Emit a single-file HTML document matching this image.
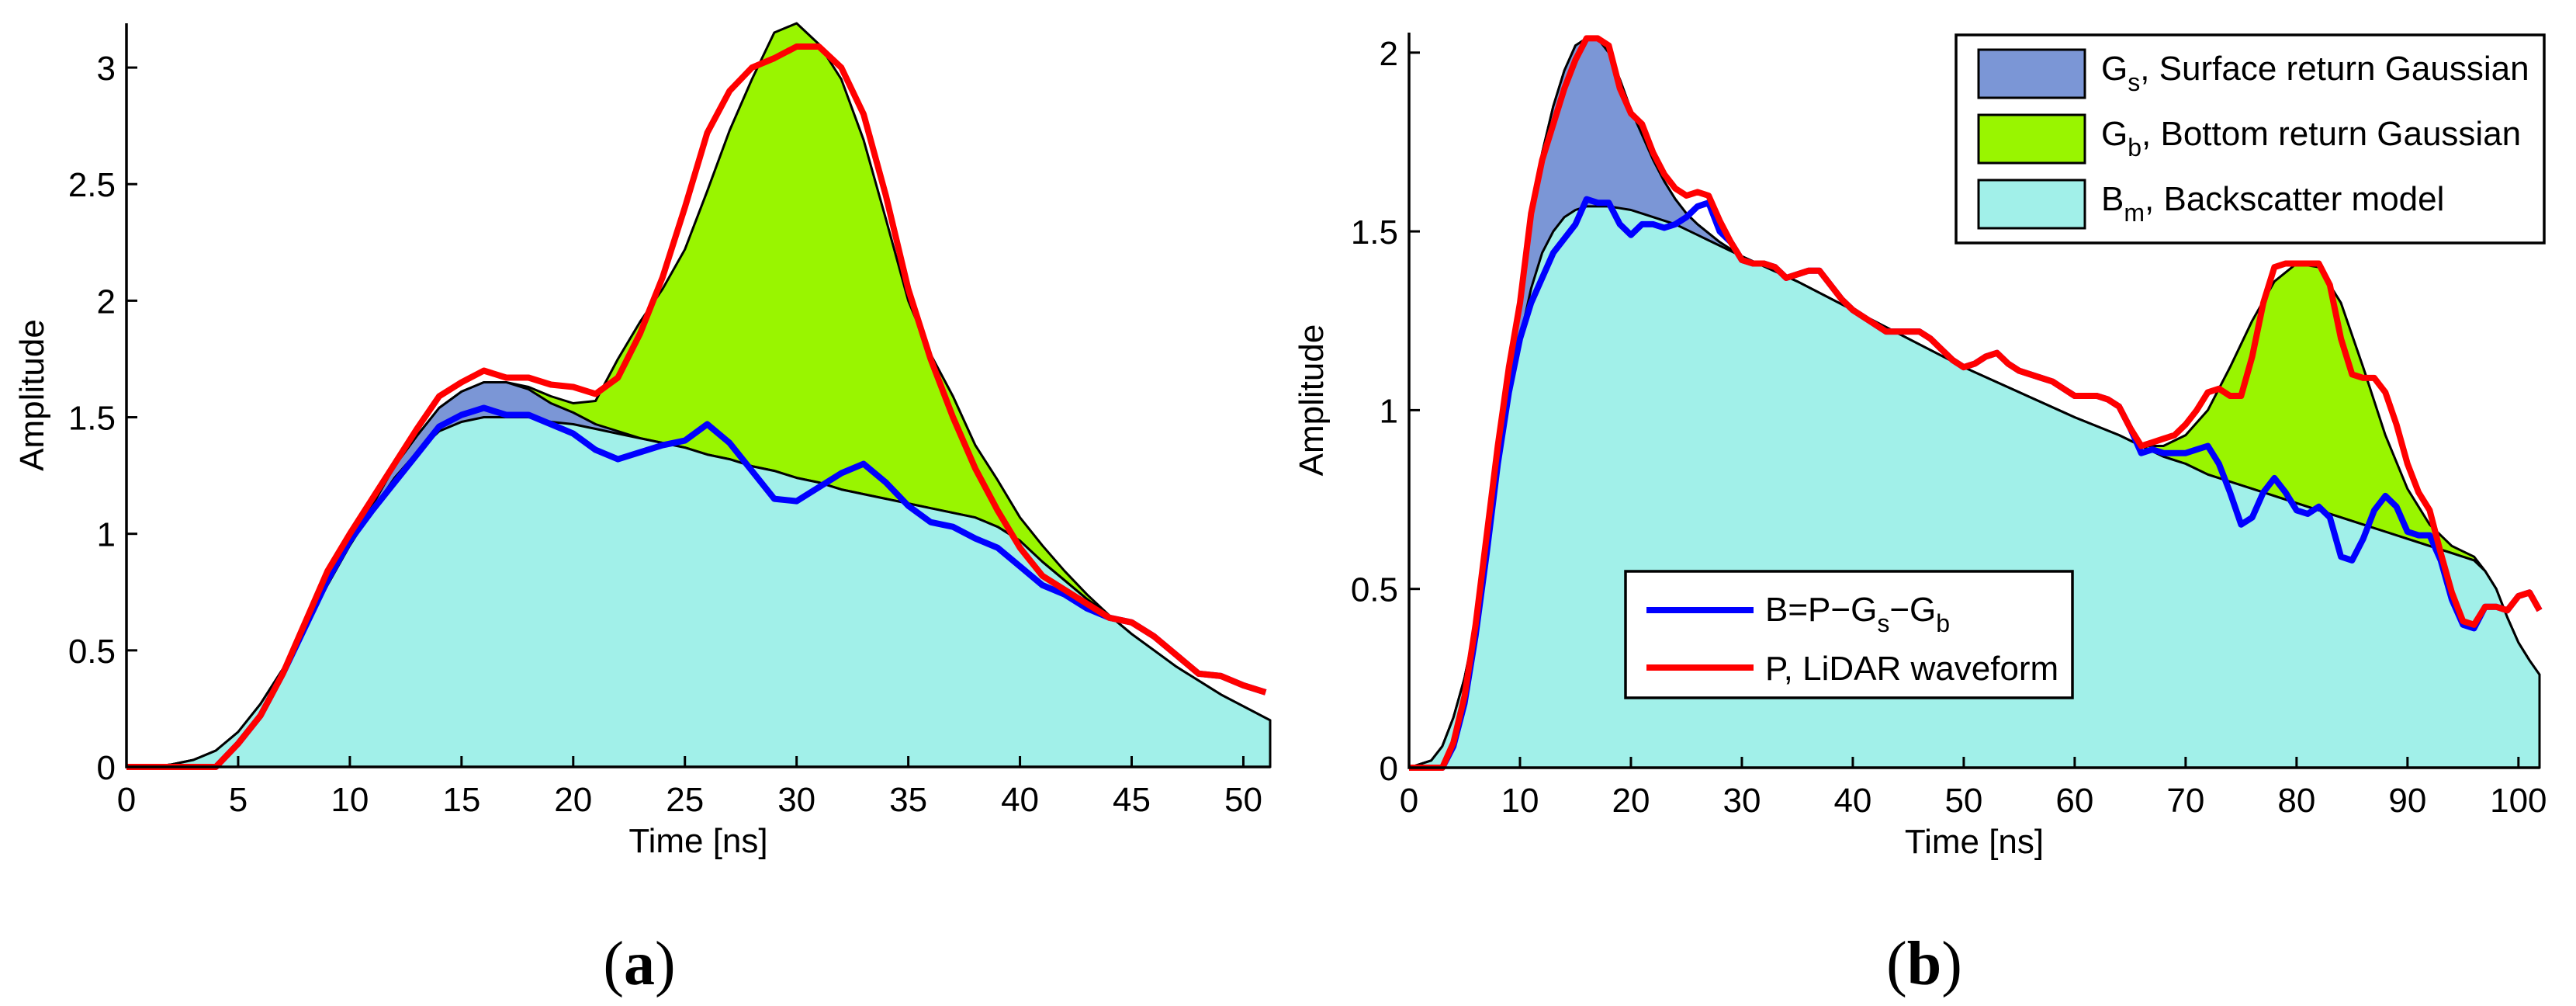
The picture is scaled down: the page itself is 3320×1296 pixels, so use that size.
<!DOCTYPE html>
<html><head><meta charset="utf-8">
<style>
html,body{margin:0;padding:0;background:#fff;}
svg{display:block;}
text{font-family:"Liberation Sans",sans-serif;}
</style></head>
<body>
<svg id="fig" width="3320" height="1296" viewBox="0 0 3320 1296" xmlns="http://www.w3.org/2000/svg">
</svg>
<script>
// ---------- Panel (a) data ----------
const timeA = [0,1,2,3,4,5,6,7,8,9,10,11,12,13,14,15,16,17,18,19,20,21,22,23,24,25,26,27,28,29,30,31,32,33,34,35,36,37,38,39,40,41,42,43,44,45,46,47,48,49,50,51,51.2];
const bmA = [0,0,0.01,0.03,0.07,0.15,0.27,0.42,0.6,0.78,0.95,1.1,1.24,1.35,1.44,1.48,1.5,1.5,1.5,1.48,1.47,1.45,1.43,1.41,1.39,1.37,1.34,1.32,1.29,1.27,1.24,1.22,1.19,1.17,1.15,1.13,1.11,1.09,1.07,1.03,0.97,0.88,0.8,0.72,0.65,0.57,0.5,0.43,0.37,0.31,0.26,0.21,0.2];
const gsA = [0,0,0,0,0,0,0,0,0,0,0,0.02,0.05,0.07,0.1,0.13,0.15,0.15,0.12,0.08,0.05,0.02,0.01,0,0,0,0,0,0,0,0,0,0,0,0,0,0,0,0,0,0,0,0,0,0,0,0,0,0,0,0,0,0];
const gbA = [0,0,0,0,0,0,0,0,0,0,0,0,0,0,0,0,0,0,0.01,0.03,0.04,0.1,0.31,0.5,0.66,0.85,1.13,1.41,1.66,1.88,1.95,1.88,1.76,1.52,1.2,0.87,0.66,0.5,0.31,0.2,0.1,0.07,0.04,0.02,0,0,0,0,0,0,0,0,0];
const lineTimeA = [0,1,2,3,4,5,6,7,8,9,10,11,12,13,14,15,16,17,18,19,20,21,22,23,24,25,26,27,28,29,30,31,32,33,34,35,36,37,38,39,40,41,42,43,44,45,46,47,48,49,50,51];
const pA = [0,0,0,0,0,0.1,0.22,0.4,0.62,0.84,1.0,1.15,1.3,1.45,1.59,1.65,1.7,1.67,1.67,1.64,1.63,1.6,1.67,1.86,2.1,2.4,2.72,2.9,3.0,3.04,3.09,3.09,3.0,2.8,2.45,2.05,1.75,1.5,1.28,1.1,0.94,0.82,0.76,0.7,0.64,0.62,0.56,0.48,0.4,0.39,0.35,0.32];
const bA = [0,0,0,0,0,0.1,0.22,0.4,0.6,0.8,0.97,1.1,1.22,1.34,1.46,1.51,1.54,1.51,1.51,1.47,1.43,1.36,1.32,1.35,1.38,1.4,1.47,1.39,1.27,1.15,1.14,1.2,1.26,1.3,1.22,1.12,1.05,1.03,0.98,0.94,0.86,0.78,0.74,0.68,0.64,0.62,0.56,0.48,0.4,0.39,0.35,0.32];
const xTicksA = [0,5,10,15,20,25,30,35,40,45,50];
const yTicksA = [0,0.5,1,1.5,2,2.5,3];
const yTickLabelsA = ["0","0.5","1","1.5","2","2.5","3"];

// ---------- Panel (b) data ----------
const timeB = [0,2,3,4,5,6,7,8,9,10,11,12,13,14,15,16,17,18,19,20,21,22,23,24,25,26,27,28,30,35,40,45,50,55,60,64,66,68,70,72,74,76,78,80,82,84,86,88,90,92,94,96,97,98,99,100,101,101.9];
const bmB = [0,0.02,0.06,0.14,0.25,0.4,0.6,0.82,1.03,1.2,1.34,1.44,1.5,1.54,1.56,1.57,1.57,1.57,1.565,1.56,1.55,1.54,1.53,1.52,1.505,1.49,1.475,1.46,1.43,1.36,1.28,1.2,1.12,1.05,0.98,0.93,0.9,0.87,0.85,0.82,0.8,0.78,0.76,0.74,0.72,0.7,0.68,0.66,0.64,0.62,0.6,0.58,0.55,0.5,0.42,0.35,0.3,0.26];
const gsB = [0,0,0,0,0,0,0.01,0.03,0.05,0.1,0.2,0.28,0.35,0.41,0.46,0.47,0.47,0.43,0.36,0.28,0.22,0.16,0.11,0.07,0.045,0.03,0.02,0.01,0,0,0,0,0,0,0,0,0,0,0,0,0,0,0,0,0,0,0,0,0,0,0,0,0,0,0,0,0,0];
const gbB = [0,0,0,0,0,0,0,0,0,0,0,0,0,0,0,0,0,0,0,0,0,0,0,0,0,0,0,0,0,0,0,0,0,0,0,0,0,0.03,0.08,0.18,0.32,0.47,0.6,0.67,0.68,0.6,0.44,0.27,0.14,0.06,0.02,0.01,0,0,0,0,0,0];
const lineTimeB = [0,1,2,3,4,5,6,7,8,9,10,11,12,13,14,15,16,17,18,19,20,21,22,23,24,25,26,27,28,29,30,31,32,33,34,35,36,37,38,39,40,41,42,43,44,45,46,47,48,49,50,51,52,53,54,55,56,57,58,59,60,61,62,63,64,65,66,67,68,69,70,71,72,73,74,75,76,77,78,79,80,81,82,83,84,85,86,87,88,89,90,91,92,93,94,95,96,97,98,99,100,101,101.9];
const pB = [0,0,0,0,0.07,0.2,0.4,0.65,0.9,1.12,1.3,1.55,1.7,1.8,1.9,1.98,2.04,2.04,2.02,1.9,1.83,1.8,1.72,1.66,1.62,1.6,1.61,1.6,1.53,1.47,1.42,1.41,1.41,1.4,1.37,1.38,1.39,1.39,1.35,1.31,1.28,1.26,1.24,1.22,1.22,1.22,1.22,1.2,1.17,1.14,1.12,1.13,1.15,1.16,1.13,1.11,1.1,1.09,1.08,1.06,1.04,1.04,1.04,1.03,1.01,0.95,0.9,0.91,0.92,0.93,0.96,1.0,1.05,1.06,1.04,1.04,1.15,1.3,1.4,1.41,1.41,1.41,1.41,1.35,1.2,1.1,1.09,1.09,1.05,0.96,0.85,0.77,0.72,0.6,0.49,0.41,0.4,0.45,0.45,0.44,0.48,0.49,0.44];
const bB = [0,0,0,0,0.06,0.18,0.37,0.6,0.85,1.05,1.2,1.3,1.37,1.44,1.48,1.52,1.59,1.58,1.58,1.52,1.49,1.52,1.52,1.51,1.52,1.54,1.57,1.58,1.5,1.47,1.42,1.41,1.41,1.4,1.37,1.38,1.39,1.39,1.35,1.31,1.28,1.26,1.24,1.22,1.22,1.22,1.22,1.2,1.17,1.14,1.12,1.13,1.15,1.16,1.13,1.11,1.1,1.09,1.08,1.06,1.04,1.04,1.04,1.03,1.01,0.95,0.88,0.89,0.88,0.88,0.88,0.89,0.9,0.85,0.77,0.68,0.7,0.77,0.81,0.77,0.72,0.71,0.73,0.7,0.59,0.58,0.64,0.72,0.76,0.73,0.66,0.65,0.65,0.58,0.47,0.4,0.39,0.45,0.45,0.44,0.48,0.49,0.44];
const xTicksB = [0,10,20,30,40,50,60,70,80,90,100];
const yTicksB = [0,0.5,1,1.5,2];
const yTickLabelsB = ["0","0.5","1","1.5","2"];

const NS = "http://www.w3.org/2000/svg";
const svg = document.getElementById('fig');
function mk(tag, attrs, parent){
  const e = document.createElementNS(NS, tag);
  for (const k in attrs) e.setAttribute(k, attrs[k]);
  (parent||svg).appendChild(e);
  return e;
}

function drawPanel(cfg){
  const g = mk('g', {});
  
  
  const sx = v => cfg.x0 + (v - 0) / cfg.xmax * (cfg.x1 - cfg.x0);
  const sy = v => cfg.y0 - v / cfg.ymax * (cfg.y0 - cfg.y1);
  const t = cfg.t;
  const lvl1 = cfg.bm.slice();
  const lvl2 = cfg.bm.map((v,i)=>v + cfg.gs[i]);
  const lvl3 = cfg.bm.map((v,i)=>v + cfg.gs[i] + cfg.gb[i]);
  function areaPath(top){
    let d = 'M' + sx(t[0]) + ',' + sy(0);
    for (let i=0;i<t.length;i++) d += ' L' + sx(t[i]).toFixed(1) + ',' + sy(top[i]).toFixed(1);
    d += ' L' + sx(t[t.length-1]) + ',' + sy(0) + ' Z';
    return d;
  }
  const aGb = mk('path', {d: areaPath(lvl3), fill:'#99f500', stroke:'#000', 'stroke-width':3, 'stroke-linejoin':'round'}, g);
  
  
  const aGs = mk('path', {d: areaPath(lvl2), fill:'#7b96d6', stroke:'#000', 'stroke-width':3, 'stroke-linejoin':'round'}, g);
  
  
  const aBm = mk('path', {d: areaPath(lvl1), fill:'#a1f0e9', stroke:'#000', 'stroke-width':3, 'stroke-linejoin':'round'}, g);
  
  

  function linePath(tt, vv){
    return tt.map((x,i)=>(i?'L':'M') + sx(x).toFixed(1) + ',' + sy(vv[i]).toFixed(1)).join(' ');
  }
  const lb = mk('path', {d: linePath(cfg.lt, cfg.b), fill:'none', stroke:'#0000ff', 'stroke-width':8, 'stroke-linejoin':'round'}, g);
  
  
  const lp = mk('path', {d: linePath(cfg.lt, cfg.p), fill:'none', stroke:'#ff0000', 'stroke-width':8, 'stroke-linejoin':'round'}, g);
  
  

  // axes
  const ax = mk('path', {d:'M'+cfg.x0+','+cfg.y1+' L'+cfg.x0+','+cfg.y0+' L'+cfg.x1+','+cfg.y0, fill:'none', stroke:'#000', 'stroke-width':3.5}, g);
  
  
  cfg.xt.forEach(v=>{
    const x = sx(v);
    const tk = mk('line', {x1:x, x2:x, y1:cfg.y0, y2:cfg.y0-14, stroke:'#000', 'stroke-width':3}, g);
    
    
    const tl = mk('text', {x:x, y:cfg.y0+57, 'font-size':44, 'text-anchor':'middle'}, g);
    tl.textContent = String(v);
    
    
  });
  cfg.yt.forEach((v,i)=>{
    const y = sy(v);
    const tk = mk('line', {x1:cfg.x0, x2:cfg.x0+14, y1:y, y2:y, stroke:'#000', 'stroke-width':3}, g);
    
    
    const tl = mk('text', {x:cfg.x0-14, y:y+16, 'font-size':44, 'text-anchor':'end'}, g);
    tl.textContent = cfg.ytl[i];
    
    
  });
  const xl = mk('text', {x:(cfg.x0+cfg.x1)/2, y:cfg.y0+110, 'font-size':44, 'text-anchor':'middle'}, g);
  xl.textContent = 'Time [ns]';
  
  
  const yc = (cfg.y0+cfg.y1)/2;
  const yl = mk('text', {x:cfg.ylx, y:yc, 'font-size':44, 'text-anchor':'middle', transform:'rotate(-90 '+cfg.ylx+' '+yc+')'}, g);
  yl.textContent = 'Amplitude';
  
  
  const cap = mk('text', {x:cfg.capx, y:1268, 'font-size':80, 'text-anchor':'middle', style:'font-family:"Liberation Serif",serif'}, g);
  cap.innerHTML = '(<tspan font-weight="bold">' + cfg.cap + '</tspan>)';
  
  
}

drawPanel({name:'panel-a', x0:163, x1:1637, y0:988, y1:30, xmax:51.2, ymax:3.19,
  t:timeA, bm:bmA, gs:gsA, gb:gbA, lt:lineTimeA, p:pA, b:bA,
  xt:xTicksA, yt:yTicksA, ytl:yTickLabelsA, ylx:56, capx:824, cap:'a'});
drawPanel({name:'panel-b', x0:1816, x1:3273, y0:989, y1:42, xmax:101.9, ymax:2.056,
  t:timeB, bm:bmB, gs:gsB, gb:gbB, lt:lineTimeB, p:pB, b:bB,
  xt:xTicksB, yt:yTicksB, ytl:yTickLabelsB, ylx:1705, capx:2480, cap:'b'});
</script>
<!-- legends (static markup) -->
<svg style="position:absolute;left:0;top:0" width="3320" height="1296">
  <g>
    <rect x="2521" y="45" width="758" height="268" fill="#fff" stroke="#000" stroke-width="3.5"/>
    <g>
      <rect x="2550" y="64" width="137" height="62" fill="#7b96d6" stroke="#000" stroke-width="3"/>
      <text x="2708" y="103" font-size="44" font-family="Liberation Sans, sans-serif">G<tspan font-size="32" dy="14">s</tspan><tspan dy="-14">, Surface return Gaussian</tspan></text>
    </g>
    <g>
      <rect x="2550" y="148" width="137" height="62" fill="#99f500" stroke="#000" stroke-width="3"/>
      <text x="2708" y="187" font-size="44" font-family="Liberation Sans, sans-serif">G<tspan font-size="32" dy="14">b</tspan><tspan dy="-14">, Bottom return Gaussian</tspan></text>
    </g>
    <g>
      <rect x="2550" y="232" width="137" height="62" fill="#a1f0e9" stroke="#000" stroke-width="3"/>
      <text x="2708" y="271" font-size="44" font-family="Liberation Sans, sans-serif">B<tspan font-size="32" dy="14">m</tspan><tspan dy="-14">, Backscatter model</tspan></text>
    </g>
  </g>
  <g>
    <rect x="2095" y="736" width="576" height="163" fill="#fff" stroke="#000" stroke-width="3.5"/>
    <g>
      <line x1="2122" x2="2260" y1="786" y2="786" stroke="#0000ff" stroke-width="8"/>
      <text x="2275" y="800" font-size="44" font-family="Liberation Sans, sans-serif">B=P−G<tspan font-size="32" dy="14">s</tspan><tspan dy="-14">−G</tspan><tspan font-size="32" dy="14">b</tspan></text>
    </g>
    <g>
      <line x1="2122" x2="2260" y1="860" y2="860" stroke="#ff0000" stroke-width="8"/>
      <text x="2275" y="876" font-size="44" font-family="Liberation Sans, sans-serif">P, LiDAR waveform</text>
    </g>
  </g>
</svg>
</body></html>
